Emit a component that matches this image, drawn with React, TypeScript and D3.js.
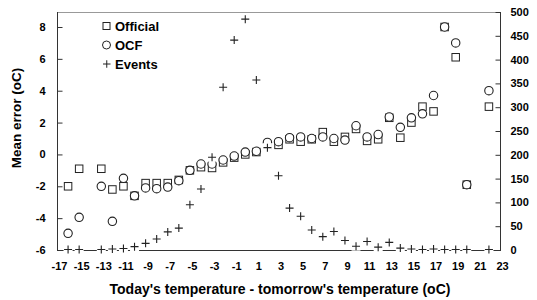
import React, { useEffect, useRef } from 'react';
import * as d3 from 'd3';

// temperature change (today - tomorrow), one point per degree
const temps = [-16, -15, -13, -12, -11, -10, -9, -8, -7, -6, -5, -4, -3, -2, -1, 0, 1, 2, 3, 4, 5, 6, 7, 8, 9, 10, 11, 12, 13, 14, 15, 16, 17, 18, 19, 20, 22];

const official = [-2.0, -0.9, -0.9, -2.2, -2.0, -2.6, -1.8, -1.8, -1.8, -1.6, -1.0, -0.8, -0.85, -0.5, -0.2, 0.0, 0.15, 0.55, 0.6, 0.95, 0.8, 0.95, 1.4, 0.8, 1.1, 1.6, 0.85, 0.95, 2.3, 1.05, 2.0, 3.0, 2.7, 8.0, 6.1, -1.9, 3.0];

const ocf = [-4.95, -3.95, -2.0, -4.2, -1.5, -2.6, -2.1, -2.15, -2.05, -1.65, -1.0, -0.6, -0.6, -0.35, -0.1, 0.15, 0.2, 0.75, 0.8, 1.05, 1.1, 1.0, 1.1, 1.0, 0.9, 1.8, 1.1, 1.25, 2.35, 1.7, 2.3, 2.55, 3.7, 8.0, 7.0, -1.9, 4.0];

const events = [1, 1, 1, 2, 3, 7, 14, 23, 38, 46, 95, 128, 195, 342, 441, 485, 357, 215, 156, 88, 71, 42, 28, 39, 20, 8, 18, 6, 16, 4, 2, 1, 2, 1, 1, 1, 1];

const xTicks = d3.range(-17, 24, 2);
const leftTicks = [-6, -4, -2, 0, 2, 4, 6, 8];
const rightTicks = d3.range(0, 501, 50);
const legendItems = ['Official', 'OCF', 'Events'];

const FONT = '"Liberation Sans", Arial, sans-serif';
const INK = '#222';

export default function App() {
    const chart = useRef<SVGSVGElement>(null);

    useEffect(() => {
        const svg = d3.select(chart.current);
        svg.selectAll('*').remove();

        const left = 57, right = 500, top = 12, bottom = 250;
        const x = d3.scaleLinear().domain([-17, 23]).range([left, right]);
        const yL = d3.scaleLinear().domain([-6, 8]).range([bottom, 27]);
        const yR = d3.scaleLinear().domain([0, 500]).range([bottom, top]);

        // frame
        svg.append('line').attr('x1', left).attr('x2', right).attr('y1', top + 0.5).attr('y2', top + 0.5)
            .attr('stroke', '#999');
        svg.append('line').attr('x1', left).attr('x2', right).attr('y1', bottom + 0.5).attr('y2', bottom + 0.5)
            .attr('stroke', '#333');
        svg.append('line').attr('x1', left + 0.5).attr('x2', left + 0.5).attr('y1', top).attr('y2', bottom + 1)
            .attr('stroke', '#333');
        svg.append('line').attr('x1', right + 0.5).attr('x2', right + 0.5).attr('y1', top).attr('y2', bottom + 1)
            .attr('stroke', '#333');

        // axes (plain hyphen for negatives, like the original)
        const fmt = (d: d3.NumberValue) => String(d);
        const gl = svg.append('g').attr('transform', `translate(${left + 0.5},0)`)
            .call(d3.axisLeft(yL).tickValues(leftTicks).tickSize(-5).tickPadding(12).tickFormat(fmt));
        const gr = svg.append('g').attr('transform', `translate(${right + 0.5},0)`)
            .call(d3.axisRight(yR).tickValues(rightTicks).tickSize(-5).tickPadding(10).tickFormat(fmt));
        const gb = svg.append('g').attr('transform', `translate(2,${bottom})`)
            .call(d3.axisBottom(x).tickValues(xTicks).tickSize(0).tickPadding(12).tickFormat(fmt));

        [gl, gr, gb].forEach(g => {
            g.select('.domain').remove();
            g.selectAll('line').attr('stroke', '#333');
            g.selectAll('text')
                .attr('font-family', FONT)
                .attr('font-size', 11)
                .attr('font-weight', 'bold')
                .attr('fill', '#000');
        });

        // titles
        svg.append('text')
            .attr('x', 280).attr('y', 294)
            .attr('text-anchor', 'middle')
            .attr('font-family', FONT).attr('font-size', 14).attr('font-weight', 'bold')
            .text("Today's temperature - tomorrow's temperature (oC)");
        svg.append('text')
            .attr('transform', 'translate(21,118) rotate(-90)')
            .attr('text-anchor', 'middle')
            .attr('font-family', FONT).attr('font-size', 13.5).attr('font-weight', 'bold')
            .text('Mean error (oC)');

        const pts = temps.map((t, i) => ({ t, off: official[i], ocf: ocf[i], ev: events[i] }));

        // official squares
        svg.append('g').selectAll('rect').data(pts).join('rect')
            .attr('x', d => x(d.t) - 3.75).attr('y', d => yL(d.off) - 3.75)
            .attr('width', 7.5).attr('height', 7.5)
            .attr('fill', 'white').attr('stroke', INK).attr('stroke-width', 1);

        // OCF circles
        svg.append('g').selectAll('circle').data(pts).join('circle')
            .attr('cx', d => x(d.t)).attr('cy', d => yL(d.ocf)).attr('r', 4.2)
            .attr('fill', 'white').attr('stroke', INK).attr('stroke-width', 1.1);

        // events: plus with white backing
        const ev = svg.append('g').selectAll('g').data(pts).join('g')
            .attr('transform', d => `translate(${x(d.t)},${yR(d.ev)})`);
        ev.append('rect').attr('x', -4.5).attr('y', -4.5).attr('width', 9).attr('height', 9).attr('fill', 'white');
        ev.append('path').attr('d', 'M-4,0H4M0,-4V4').attr('stroke', INK).attr('stroke-width', 1.1);

        // legend
        const lg = svg.append('g');
        legendItems.forEach((name, i) => {
            const cy = 26 + i * 19;
            if (i === 0) {
                lg.append('rect').attr('x', 103).attr('y', cy - 3.5).attr('width', 7).attr('height', 7)
                    .attr('fill', 'white').attr('stroke', INK);
            } else if (i === 1) {
                lg.append('circle').attr('cx', 106.5).attr('cy', cy).attr('r', 4)
                    .attr('fill', 'white').attr('stroke', INK);
            } else {
                lg.append('path').attr('d', `M103,${cy}H110.5M106.75,${cy - 3.75}V${cy + 3.75}`).attr('stroke', INK);
            }
            lg.append('text')
                .attr('x', 115).attr('y', cy).attr('dy', '0.36em')
                .attr('font-family', FONT).attr('font-size', 13).attr('font-weight', 'bold')
                .text(name);
        });
    }, []);

    return (
        <div>
            <svg ref={chart} width={537} height={300}
                style={{ position: 'absolute', left: 0, top: 0, background: 'white' }}></svg>
        </div>
    );
}
